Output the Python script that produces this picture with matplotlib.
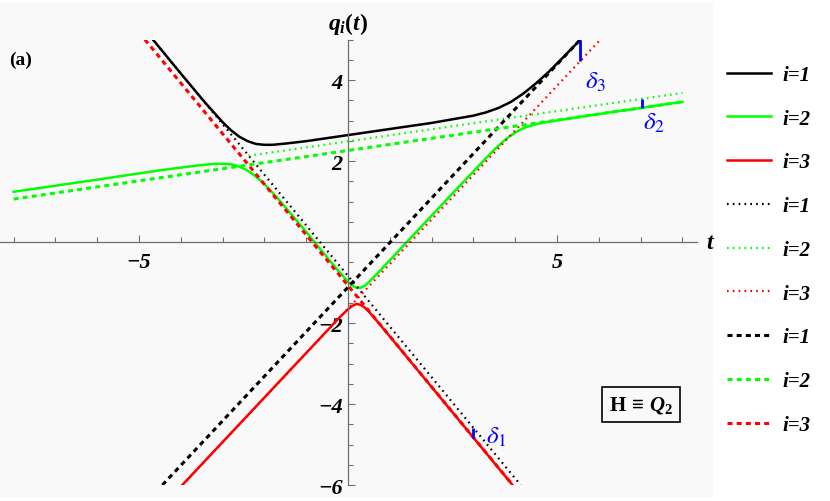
import numpy as np
import matplotlib.pyplot as plt
from matplotlib.font_manager import FontProperties
from matplotlib.lines import Line2D
from matplotlib.patches import Rectangle

plt.rcParams['mathtext.fontset'] = 'custom'
plt.rcParams['mathtext.it'] = 'Liberation Serif:italic:bold'
plt.rcParams['mathtext.rm'] = 'Liberation Serif:bold'
plt.rcParams['mathtext.bf'] = 'Liberation Serif:bold'
plt.rcParams['lines.scale_dashes'] = False

SERIF = 'Liberation Serif'
BG = '#f9f9f9'
AXIS_GREY = '#6e6e6e'

# trajectories q_i(t)
black_t = [-4.7, -4.0, -3.4, -3.0, -2.8, -2.6, -2.4, -2.2, -2.0, -1.8, -1.5, -1.0, 0.0,
           1.0, 2.0, 2.5, 3.0, 3.3, 3.6, 3.9, 4.2, 4.5, 4.8, 5.1, 5.6]
black_y = [5.04, 4.16, 3.42, 2.96, 2.76, 2.60, 2.49, 2.42, 2.40, 2.40, 2.43, 2.49, 2.64,
           2.79, 2.94, 3.03, 3.12, 3.20, 3.31, 3.46, 3.67, 3.92, 4.20, 4.51, 5.04]

green_t = [-8.0, -6.0, -4.5, -3.6, -3.2, -2.9, -2.75, -2.6, -2.45, -2.3, -2.15, -2.0, -1.8,
           -1.6, -1.0, -0.5, -0.2, 0.0, 0.1, 0.2, 0.3, 0.4, 0.5, 0.7, 1.0, 1.5, 2.5, 3.2,
           3.5, 3.7, 3.8, 3.9, 4.0, 4.1, 4.2, 4.3, 4.5, 4.8, 5.3, 6.0, 8.0]
green_y = [1.24, 1.54, 1.77, 1.89, 1.93, 1.93, 1.91, 1.86, 1.79, 1.69, 1.57, 1.43, 1.21,
           0.98, 0.25, -0.38, -0.75, -0.98, -1.08, -1.13, -1.13, -1.08, -0.99, -0.78, -0.45,
           0.10, 1.20, 1.96, 2.28, 2.47, 2.56, 2.63, 2.70, 2.76, 2.81, 2.85, 2.91, 2.97,
           3.05, 3.16, 3.46]

red_t = [-4.0, -2.0, -0.6, -0.4, -0.2, 0.0, 0.1, 0.2, 0.3, 0.4, 0.5, 0.7, 1.0, 2.0, 4.0]
red_y = [-6.04, -3.84, -2.30, -2.08, -1.86, -1.66, -1.58, -1.53, -1.55, -1.62, -1.72,
         -1.96, -2.33, -3.58, -6.08]

# free asymptotes: end points (t0, q0, t1, q1)
dotted_black = [-4.67, 5.0, 4.13, -6.0]
dotted_green = [-2.38, 2.13, 8.0, 3.68]
dotted_red = [-3.96, -6.0, 6.04, 5.0]
dashed_black = [-4.44, -6.0, 5.56, 5.0]
dashed_green = [-8.0, 1.06, 8.0, 3.46]
dashed_red = [-4.86, 5.0, 3.94, -6.0]

# shift markers delta_1..3: t, lower q, upper q, label position
delta_t = [3.0, 7.03, 5.55]
delta_lo = [-4.83, 3.31, 4.47]
delta_hi = [-4.59, 3.53, 4.99]
delta_label_t = [3.55, 7.32, 5.92]
delta_label_q = [-4.80, 2.96, 3.98]

x_major = [-5, 5]
x_major_labels = ['\u22125', '5']
x_minor = [-8, -7, -6, -4, -3, -2, -1, 1, 2, 3, 4, 6, 7, 8]
y_major = [-6, -4, -2, 2, 4]
y_major_labels = ['\u22126', '\u22124', '\u22122', '2', '4']

legend_labels = ['i=1', 'i=2', 'i=3'] * 3
COLORS = ['black', '#00ff00', 'red']

SOLID = dict(lw=1.8)
DOTTED = dict(lw=1.6, dashes=(1.2, 3.0))
DASHED = dict(lw=2.2, dashes=(3.6, 3.0))


def seg(ax, pts, color, style, clip, z):
    ln, = ax.plot([pts[0], pts[2]], [pts[1], pts[3]], color=color, zorder=z, **style)
    ln.set_clip_path(clip)


label_font = FontProperties(family=SERIF, weight='bold', style='italic', size=16)

fig = plt.figure(figsize=(8.3, 5.02), dpi=100)
ax = fig.add_axes([0, 4 / 502, 713 / 830, 495 / 502])
ax.set_facecolor(BG)
ax.set_xlim(-8.325, 8.732)
ax.set_ylim(-6.296, 5.926)

clip = Rectangle((-8.33, -6.0), 16.68, 11.0, transform=ax.transData)

for t, q, c in zip([black_t, green_t, red_t], [black_y, green_y, red_y], COLORS):
    ln, = ax.plot(t, q, color=c, zorder=2, solid_joinstyle='round', **SOLID)
    ln.set_clip_path(clip)

for pts, c in zip([dotted_black, dotted_green, dotted_red], COLORS):
    seg(ax, pts, c, DOTTED, clip, 3)
for pts, c in zip([dashed_black, dashed_green, dashed_red], COLORS):
    seg(ax, pts, c, DASHED, clip, 4)

ax.vlines(delta_t, delta_lo, delta_hi, colors='blue', lw=2, zorder=5)
for i, (tx, qy) in enumerate(zip(delta_label_t, delta_label_q)):
    ax.text(tx, qy, r'$\delta_%d$' % (i + 1), color='blue', fontsize=18,
            ha='center', va='center', math_fontfamily='stix')

# axes through the origin
for side in ['top', 'right']:
    ax.spines[side].set_visible(False)
ax.spines['left'].set_position(('data', 0))
ax.spines['bottom'].set_position(('data', 0))
ax.spines['left'].set_bounds(-6, 5)
ax.spines['bottom'].set_bounds(-8.33, 8.35)
for side in ['left', 'bottom']:
    ax.spines[side].set_color(AXIS_GREY)
    ax.spines[side].set_linewidth(0.9)

ax.set_xticks(x_major)
ax.set_xticklabels(x_major_labels, fontproperties=label_font)
ax.set_xticks(x_minor, minor=True)
ax.set_yticks(y_major)
ax.set_yticklabels(y_major_labels, fontproperties=label_font)
ax.set_yticks(np.arange(-6, 5.01, 0.5), minor=True)
ax.tick_params(which='both', direction='in', color=AXIS_GREY, width=0.8)
ax.tick_params(which='major', length=5)
ax.tick_params(which='minor', length=3.5)
ax.tick_params(axis='x', pad=7)
ax.tick_params(axis='y', pad=4)

ax.text(0, 5.40, r'$q_i(t)$', fontsize=17, ha='center', va='center')
ax.text(8.64, 0.0, 't', fontsize=17, family=SERIF, weight='bold', style='italic',
        ha='center', va='center')
ax.text(0.0295, 0.885, '(a)', transform=ax.transAxes, fontsize=14, family=SERIF,
        weight='bold', ha='center', va='center')
ax.text(7.01, -4.01, r'$\mathrm{H}\,\equiv\,Q_2$', fontsize=15, ha='center', va='center',
        bbox=dict(boxstyle='square,pad=0.35', fc='none', ec='black', lw=1.2))

handles = []
for style in [SOLID, DOTTED, DASHED]:
    for c in COLORS:
        handles.append(Line2D([], [], color=c, **style))
fig.legend(handles, legend_labels, loc='center left',
           bbox_to_anchor=(727 / 830, 1 - 251 / 502), frameon=False,
           handlelength=2.1, handletextpad=0.55, labelspacing=1.14,
           borderpad=0, borderaxespad=0,
           prop=dict(family=SERIF, weight='bold', style='italic', size=15))

fig.savefig('out.png', dpi=100, facecolor='white')
